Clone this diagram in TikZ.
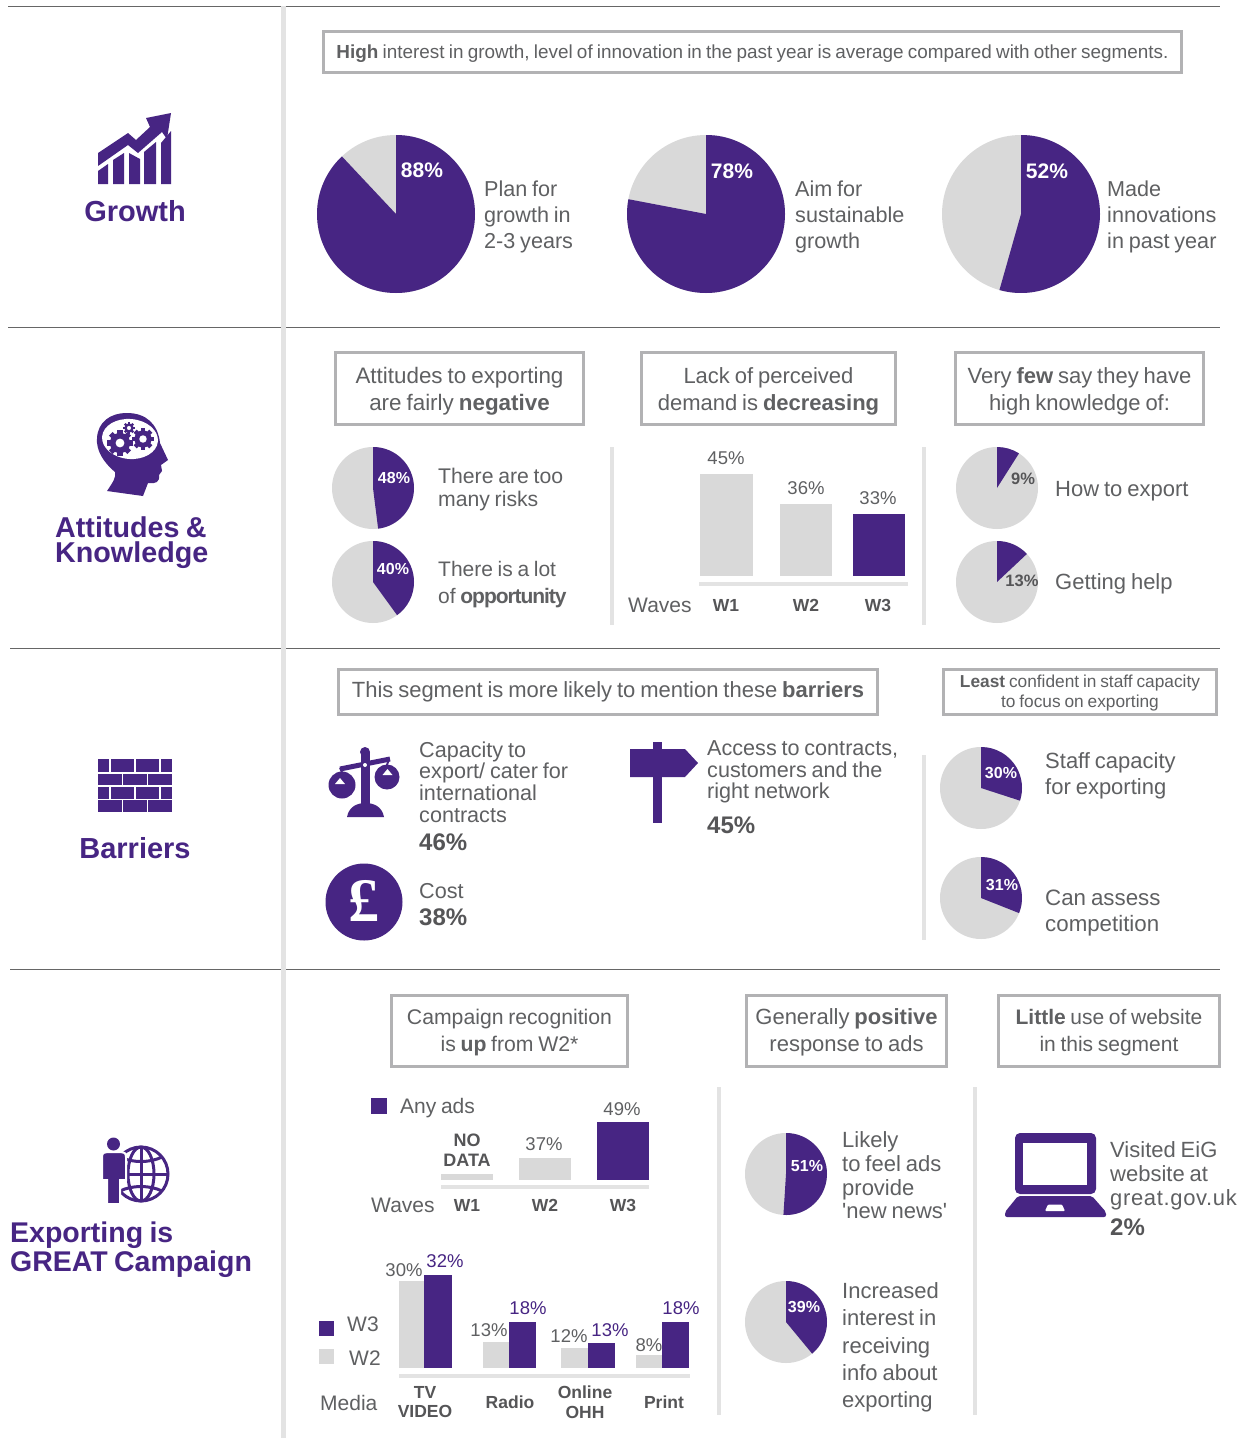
\documentclass[tikz,border=0pt]{standalone}
\usepackage{fontspec}
\setmainfont{Liberation Sans}[Ligatures=TeXOff,WordSpace=0.8]
\newfontfamily\serifb{Liberation Serif}
\definecolor{brand}{HTML}{472583}
\definecolor{ink}{HTML}{5F6062}
\definecolor{inkb}{HTML}{555557}
\definecolor{soft}{HTML}{D9D9D9}
\definecolor{rulec}{HTML}{E3E3E3}
\definecolor{frame}{HTML}{B2B2B4}
\newcommand{\sz}[2]{\fontsize{#1}{#2}\selectfont}
\newcommand{\piechart}[4]{%
  \fill[soft] (#1,#2) circle (#3);
  \fill[brand] (#1,#2) -- ++(0,-#3) arc[start angle=90,delta angle=-3.6*#4,radius=#3 pt] -- cycle;}
\newcommand{\gearicon}[3]{%
  \fill[brand] (#1,#2) circle (#3*0.78);
  \foreach \a in {0,45,...,315}{\fill[brand,shift={(#1,#2)},rotate=\a] (-#3*0.2,0) rectangle (#3*0.2,#3);}
  \fill[white] (#1,#2) circle (#3*0.34);}
\newcommand{\barrect}[5]{\fill[#5] (#1,#2) rectangle (#3,#4);}
\tikzset{
  x=1pt,y=-1pt,
  hrule/.style={draw=black!60,line width=0.7pt},
  vrule/.style={draw=rulec,line width=4pt},
  axisline/.style={draw=rulec,line width=4.5pt},
  boxst/.style={draw=frame,line width=3pt,inner sep=0pt},
  boxtxt/.style={align=center,text=ink,inner sep=0pt,font=\sz{22}{27}\selectfont},
  lab/.style={anchor=west,align=left,inner sep=0pt,text=ink,font=\sz{21.6}{26}\selectfont},
  numb/.style={anchor=west,inner sep=0pt,text=inkb,font=\sz{24}{28}\selectfont\bfseries},
  sect/.style={align=left,inner sep=0pt,text=brand,font=\sz{29}{25}\selectfont\bfseries},
  inpie/.style={inner sep=0pt,text=white,font=\sz{16}{18}\selectfont\bfseries},
  inbig/.style={inner sep=0pt,text=white,font=\sz{21}{24}\selectfont\bfseries},
  outpie/.style={inner sep=0pt,text=inkb,font=\sz{16.5}{18}\selectfont\bfseries},
  pct/.style={inner sep=0pt,text=ink,font=\sz{18.5}{20}\selectfont},
  pctp/.style={inner sep=0pt,text=brand,font=\sz{18.5}{20}\selectfont},
  tick/.style={inner sep=0pt,align=center,text=inkb,font=\sz{17.5}{19.5}\selectfont\bfseries},
}
\begin{document}
\begin{tikzpicture}
\useasboundingbox (0,0) rectangle (1245,1438);
\fill[white] (0,0) rectangle (1245,1438);
% rules
\draw[hrule] (8,6) -- (1220,6);
\draw[hrule] (8,327) -- (1220,327);
\draw[hrule] (10,648) -- (1220,648);
\draw[hrule] (10,969) -- (1220,969);
\draw[vrule,line width=5pt] (283,6) -- (283,1438);
\draw[vrule] (612,447) -- (612,625);
\draw[vrule] (924,447) -- (924,625);
\draw[vrule] (924,755) -- (924,940);
\draw[vrule] (719,1087) -- (719,1415);
\draw[vrule] (975,1087) -- (975,1415);

% ---------- section titles
\node[sect,anchor=center] (tgrowth) at (135,211) {Growth};
\node[sect,anchor=west,font=\sz{28.7}{25}\selectfont\bfseries] (tatt) at (55,543) {Attitudes \&\\Knowledge};
\node[sect,anchor=center] (tbar) at (135,848) {Barriers};
\node[sect,anchor=west,font=\sz{28.5}{29}\selectfont\bfseries] (texp) at (10,1250) {Exporting is\\GREAT Campaign};

% ---------- growth icon
\fill[brand] (98,153) -- (128,133) -- (136,140) -- (150,127) -- (146,118) -- (171,113) -- (167,139) -- (162,132) -- (138,153) -- (128,145) -- (98,166) -- cycle;
\fill[brand] (98,171) -- (108,164) -- (108,184) -- (98,184) -- cycle;
\fill[brand] (113,160) -- (124,153) -- (124,184) -- (113,184) -- cycle;
\fill[brand] (129,153) -- (140,159) -- (140,184) -- (129,184) -- cycle;
\fill[brand] (144,152) -- (156,142) -- (156,184) -- (144,184) -- cycle;
\fill[brand] (161,143) -- (171,131) -- (171,184) -- (161,184) -- cycle;

% ---------- head icon
\fill[brand] (107,491) .. controls (113,482) and (116,478) .. (115,472) .. controls (103,462) and (96,450) .. (97,438) .. controls (98,422) and (110,413) .. (127,413) .. controls (146,413) and (158,424) .. (160,443) -- (168,460) -- (161,465) -- (162,471) -- (159,475) .. controls (160,482) and (156,484) .. (148,483) -- (143,496) -- cycle;
\fill[white,rotate around={-5:(130,439)}] (130,439) ellipse (28 and 20);
\gearicon{120}{443}{13}
\gearicon{143}{439}{11}
\gearicon{129}{428}{6}

% ---------- bricks
\foreach \yt/\yb in {759/772,786.5/798.5}{
  \foreach \xa/\xb in {98/109,110.5/134,136/159,161/172}{\fill[brand] (\xa,\yt) rectangle (\xb,\yb);}}
\foreach \yt/\yb in {773.5/785,800/812}{
  \foreach \xa/\xb in {98/122,123/147,148/172}{\fill[brand] (\xa,\yt) rectangle (\xb,\yb);}}

% ---------- globe and person
\draw[brand,line width=3pt] (141,1174) circle (27);
\draw[brand,line width=3pt] (141,1174) ellipse (13 and 27);
\draw[brand,line width=3pt] (141,1147) -- (141,1201);
\draw[brand,line width=3pt] (114,1174) -- (168,1174);
\draw[brand,line width=3pt] (120,1157) .. controls (132,1163) and (150,1163) .. (162,1157);
\draw[brand,line width=3pt] (120,1191) .. controls (132,1185) and (150,1185) .. (162,1191);
\fill[brand,draw=white,line width=2pt] (107,1204) -- (107,1180) -- (102,1180) -- (102,1157) .. controls (102,1153) and (104,1152) .. (107,1152) -- (121,1152) .. controls (124,1152) and (126,1153) .. (126,1157) -- (126,1180) -- (120,1180) -- (120,1204) -- cycle;
\fill[brand] (113.5,1144) circle (6.5);

% ---------- growth section
\node[boxst,minimum width=857.5pt,minimum height=40.5pt] (b1) at (752.5,52) {};
\node[boxtxt,font=\sz{18.9}{22}\selectfont] (b1t) at ([yshift=-2pt]b1.center) {\textbf{High} interest in growth, level of innovation in the past year is average compared with other segments.};
\piechart{396}{214}{79}{88}
\piechart{706}{214}{79}{78}
\piechart{1021}{214}{79}{54.4}
\node[inbig] (p1) at (422,170) {88\%};
\node[inbig] (p2) at (732,171) {78\%};
\node[inbig] (p3) at (1047,171) {52\%};
\node[lab] (l1) at (484,216.5) {Plan for\\growth in\\2-3 years};
\node[lab] (l2) at (795,216.5) {Aim for\\sustainable\\growth};
\node[lab] (l3) at (1107,216.5) {Made\\innovations\\in past year};

% ---------- attitudes section
\node[boxst,minimum width=247.5pt,minimum height=71.5pt] (b2) at (459.5,388.5) {};
\node[boxtxt,font=\sz{22.4}{27}\selectfont] (b2t) at ([yshift=-2.5pt]b2.center) {Attitudes to exporting\\are fairly \textbf{negative}};
\node[boxst,minimum width=253.5pt,minimum height=71.5pt] (b3) at (768.5,388.5) {};
\node[boxtxt] (b3t) at ([yshift=-2.5pt]b3.center) {Lack of perceived\\demand is \textbf{decreasing}};
\node[boxst,minimum width=247.5pt,minimum height=71.5pt] (b4) at (1079.5,388.5) {};
\node[boxtxt] (b4t) at ([yshift=-2.5pt]b4.center) {Very \textbf{few} say they have\\high knowledge of:};
\piechart{373}{488}{41}{48}
\piechart{373}{582}{41}{40}
\piechart{997}{488}{41}{9}
\piechart{997}{582}{41}{13}
\node[inpie] (p4) at (394,478) {48\%};
\node[inpie] (p5) at (393,569) {40\%};
\node[outpie] (p6) at (1023,479) {9\%};
\node[outpie] (p7) at (1022,581) {13\%};
\node[lab,font=\sz{21.2}{23}\selectfont] (l4) at (438,490) {There are too\\many risks};
\node[lab,font=\sz{21}{27}\selectfont] (l5) at (438,585) {There is a lot\\of \textbf{\addfontfeature{LetterSpace=-5}opportunity}};
\node[lab,font=\sz{22}{26}\selectfont] (l6) at (1055,491) {How to export};
\node[lab,font=\sz{22}{26}\selectfont] (l7) at (1055,584) {Getting help};
\barrect{700}{474}{753}{576}{soft}
\barrect{780}{504}{832}{576}{soft}
\barrect{853}{514}{905}{576}{brand}
\draw[axisline] (699,584) -- (908,584);
\node[pct] (v1) at (726,458) {45\%};
\node[pct] (v2) at (806,488) {36\%};
\node[pct] (v3) at (878,498) {33\%};
\node[lab,font=\sz{21}{24}\selectfont] (w0) at (628,605) {Waves};
\node[tick] (w1) at (726,605) {W1};
\node[tick] (w2) at (806,605) {W2};
\node[tick] (w3) at (878,605) {W3};

% ---------- barriers section
\node[boxst,minimum width=538.5pt,minimum height=44.5pt] (b5) at (608,692) {};
\node[boxtxt,font=\sz{22}{24}\selectfont] (b5t) at (b5.center) {This segment is more likely to mention these \textbf{barriers}};
\node[boxst,minimum width=272.5pt,minimum height=44.5pt] (b6) at (1080,692) {};
\node[boxtxt,font=\sz{17.3}{20}\selectfont] (b6t) at ([yshift=-1.5pt]b6.center) {\textbf{Least} confident in staff capacity\\to focus on exporting};
% scales
\fill[brand] (365,752) circle (5);
\fill[brand] (360.5,752) rectangle (369.5,808);
\fill[brand] (347,817) .. controls (349,806) and (358,803) .. (365.5,803) .. controls (373,803) and (382,806) .. (384,817) -- cycle;
\draw[brand,line width=5pt] (340,769) -- (390,759);
\fill[white] (365,765) circle (2);
\fill[brand] (342,785) circle (13.5);
\fill[brand] (387,777) circle (12.5);
\draw[brand,line width=2pt] (342,772) -- (340,768);
\draw[brand,line width=2pt] (387,765) -- (389,759);
\fill[white] (335,784) -- (345,784) -- (340,778) -- cycle;
\fill[white] (382.5,775) -- (392.5,775) -- (387.5,769) -- cycle;
% pound
\fill[brand] (364,902) circle (38.5);
\node[inner sep=0pt,text=white,font=\sz{62}{62}\serifb\bfseries] (pnd) at (364,901) {£};
% signpost
\fill[brand] (653,742) rectangle (662,823);
\fill[brand] (630,749) -- (685,749) -- (698,763) -- (685,777) -- (630,777) -- cycle;
\node[lab,font=\sz{21.6}{21.8}\selectfont] (l8) at (419,782) {Capacity to\\export/ cater for\\international\\contracts};
\node[numb] (n1) at (419,842) {46\%};
\node[lab,font=\sz{21.6}{24}\selectfont] (l9) at (419,891) {Cost};
\node[numb] (n2) at (419,917) {38\%};
\node[lab,font=\sz{21.6}{21.8}\selectfont] (l10) at (707,772) {Access to contracts,\\customers and the\\right network};
\node[numb] (n3) at (707,825) {45\%};
\piechart{981}{788}{41}{30}
\piechart{981}{898}{41}{31}
\node[inpie] (p8) at (1001,773) {30\%};
\node[inpie] (p9) at (1002,885) {31\%};
\node[lab,font=\sz{22}{26}\selectfont] (l11) at (1045,776) {Staff capacity\\for exporting};
\node[lab,font=\sz{22.3}{26}\selectfont] (l12) at (1045,913) {Can assess\\competition};

% ---------- campaign section
\node[boxst,minimum width=235.5pt,minimum height=70.5pt] (b7) at (509.5,1031) {};
\node[boxtxt,font=\sz{21.2}{27}\selectfont] (b7t) at ([yshift=-1.5pt]b7.center) {Campaign recognition\\is \textbf{up} from W2*};
\node[boxst,minimum width=199.5pt,minimum height=70.5pt] (b8) at (846.5,1031) {};
\node[boxtxt] (b8t) at ([yshift=-1.5pt]b8.center) {Generally \textbf{positive}\\response to ads};
\node[boxst,minimum width=220.5pt,minimum height=70.5pt] (b9) at (1109,1031) {};
\node[boxtxt,font=\sz{21}{27}\selectfont] (b9t) at ([yshift=-1.5pt]b9.center) {\textbf{Little} use of website\\in this segment};
\barrect{371}{1098}{387}{1114}{brand}
\node[lab,font=\sz{21}{24}\selectfont] (a0) at (400,1108) {Any ads};
\node[tick,font=\sz{18}{20}\selectfont\bfseries] (a1) at (467,1150) {NO\\DATA};
\barrect{441}{1174}{493}{1180}{soft}
\barrect{519}{1158}{571}{1180}{soft}
\barrect{597}{1122}{649}{1180}{brand}
\draw[axisline] (441,1187) -- (649,1187);
\node[pct] (a2) at (544,1144) {37\%};
\node[pct] (a3) at (622,1109) {49\%};
\node[lab,font=\sz{21}{24}\selectfont] (a4) at (371,1205) {Waves};
\node[tick] (a5) at (467,1205) {W1};
\node[tick] (a6) at (545,1205) {W2};
\node[tick] (a7) at (623,1205) {W3};
% media chart
\barrect{399}{1281}{424}{1368}{soft}
\barrect{424}{1275}{452}{1368}{brand}
\barrect{483}{1342}{509}{1368}{soft}
\barrect{509}{1322}{536}{1368}{brand}
\barrect{561}{1348}{588}{1368}{soft}
\barrect{588}{1343}{615}{1368}{brand}
\barrect{636}{1355}{662}{1368}{soft}
\barrect{662}{1322}{689}{1368}{brand}
\draw[axisline] (399,1376) -- (690,1376);
\barrect{319}{1321}{334}{1336}{brand}
\barrect{319}{1349}{334}{1364}{soft}
\node[lab,font=\sz{21}{24}\selectfont] (m1) at (347,1324) {W3};
\node[lab,font=\sz{21}{24}\selectfont] (m2) at (349,1358) {W2};
\node[lab,font=\sz{21}{24}\selectfont] (m3) at (320,1403) {Media};
\node[pct] (d1) at (404,1270) {30\%};
\node[pctp] (d2) at (445,1261) {32\%};
\node[pct] (d3) at (489,1330) {13\%};
\node[pctp] (d4) at (528,1308) {18\%};
\node[pct] (d5) at (569,1336) {12\%};
\node[pctp] (d6) at (610,1330) {13\%};
\node[pct] (d7) at (649,1345) {8\%};
\node[pctp] (d8) at (681,1308) {18\%};
\node[tick] (e1) at (425,1402) {TV\\VIDEO};
\node[tick] (e2) at (510,1402) {Radio};
\node[tick] (e3) at (585,1402) {Online\\OHH};
\node[tick] (e4) at (664,1402) {Print};
\piechart{786}{1174}{41}{51}
\piechart{786}{1322}{41}{39}
\node[inpie] (p10) at (807,1166) {51\%};
\node[inpie] (p11) at (804,1307) {39\%};
\node[lab,font=\sz{22}{23.7}\selectfont] (l13) at (842,1175.5) {Likely\\to feel ads\\provide\\'new news'};
\node[lab,font=\sz{22}{27.3}\selectfont] (l14) at (842,1347.5) {Increased\\interest in\\receiving\\info about\\exporting};
% laptop
\fill[brand,rounded corners=5pt] (1015,1133) rectangle (1096,1194);
\fill[white] (1023,1143) rectangle (1087,1185);
\fill[brand,rounded corners=2pt] (1018,1196) -- (1092,1196) -- (1106,1212) -- (1106,1217) -- (1005,1217) -- (1005,1212) -- cycle;
\fill[white,rounded corners=1pt] (1045,1211) -- (1065,1211) -- (1062,1204.5) -- (1048,1204.5) -- cycle;
\node[lab,font=\sz{22}{24}\selectfont] (l15) at (1110,1176) {Visited EiG\\website at\\{\addfontfeature{LetterSpace=3}great.gov.uk}};
\node[numb] (n4) at (1110,1227) {2\%};
\end{tikzpicture}
\end{document}
